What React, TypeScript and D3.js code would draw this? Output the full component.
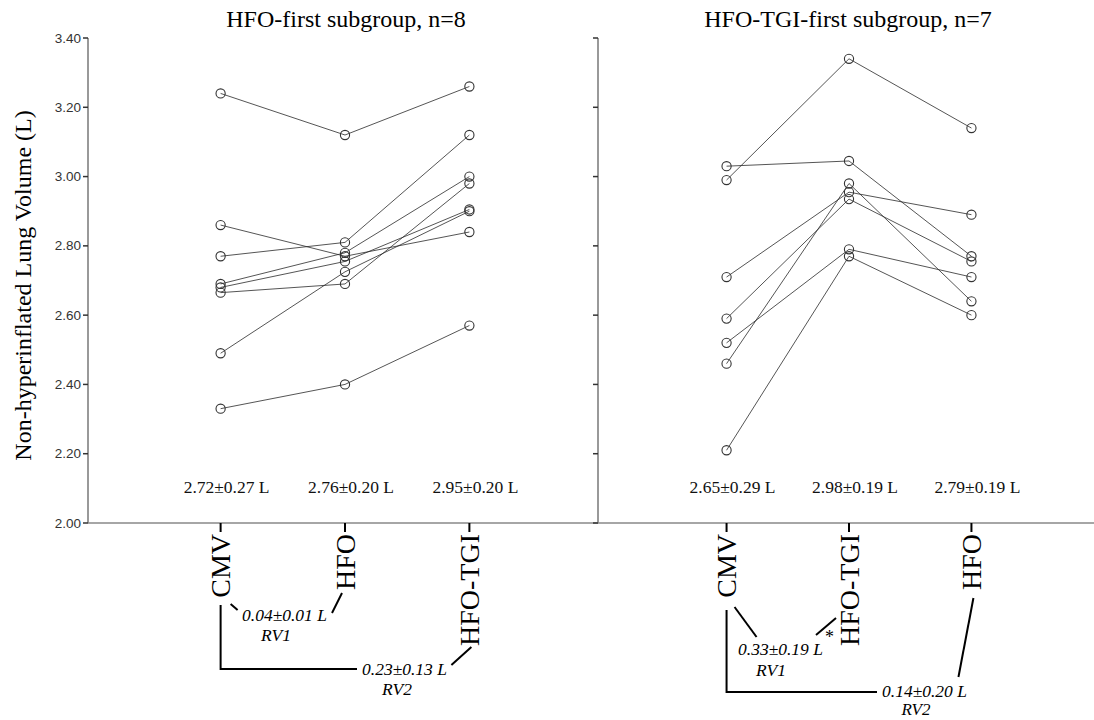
import React from "react";
import * as d3 from "d3";

// ---------- data ----------
const yTicks = [2.0, 2.2, 2.4, 2.6, 2.8, 3.0, 3.2, 3.4];

const leftTitle = "HFO-first subgroup, n=8";
const rightTitle = "HFO-TGI-first subgroup, n=7";
const yLabel = "Non-hyperinflated Lung Volume (L)";

const leftCategories = ["CMV", "HFO", "HFO-TGI"];
const rightCategories = ["CMV", "HFO-TGI", "HFO"];

// left panel: one entry per patient, in order of the categories
const leftCMV = [3.24, 2.33, 2.77, 2.86, 2.69, 2.68, 2.665, 2.49];
const leftHFO = [3.12, 2.4, 2.81, 2.77, 2.78, 2.755, 2.69, 2.725];
const leftTGI = [3.26, 2.57, 3.12, 2.84, 3.0, 2.905, 2.98, 2.9];

// right panel
const rightCMV = [2.99, 3.03, 2.71, 2.59, 2.46, 2.52, 2.21];
const rightTGI = [3.34, 3.045, 2.955, 2.935, 2.98, 2.79, 2.77];
const rightHFO = [3.14, 2.77, 2.89, 2.755, 2.64, 2.71, 2.6];

const leftMeans = ["2.72±0.27 L", "2.76±0.20 L", "2.95±0.20 L"];
const rightMeans = ["2.65±0.29 L", "2.98±0.19 L", "2.79±0.19 L"];

const leftRV1 = "0.04±0.01 L";
const leftRV2 = "0.23±0.13 L";
const rightRV1 = "0.33±0.19 L";
const rightRV2 = "0.14±0.20 L";

// ---------- layout ----------
const W = 1094;
const H = 720;
const yTop = 38;
const yBottom = 523;
const leftAxisX = 88;
const rightAxisX = 598;

const serif = "'Liberation Serif', 'Times New Roman', serif";
const sans = "'Liberation Sans', Arial, sans-serif";

const y = d3.scaleLinear().domain([2.0, 3.4]).range([yBottom, yTop]);
const xLeft = d3.scalePoint<string>().domain(leftCategories).range([90, 600]).padding(1.05);
const xRight = d3.scalePoint<string>().domain(rightCategories).range([598, 1100]).padding(1.05);

const leftSeries = leftCMV.map((_, i) => [leftCMV[i], leftHFO[i], leftTGI[i]]);
const rightSeries = rightCMV.map((_, i) => [rightCMV[i], rightTGI[i], rightHFO[i]]);

function Panel({ cats, x, series, means }: { cats: string[]; x: d3.ScalePoint<string>; series: number[][]; means: string[] }) {
  const line = d3
    .line<number>()
    .x((_, i) => x(cats[i]) as number)
    .y((d) => y(d));
  return (
    <g>
      {series.map((s, i) => (
        <path key={"l" + i} d={line(s) || ""} fill="none" stroke="#2a2a2a" strokeWidth={0.8} />
      ))}
      {series.map((s, i) =>
        s.map((v, j) => (
          <circle key={"c" + i + "-" + j} cx={x(cats[j]) as number} cy={y(v)} r={4.6} fill="none" stroke="#333" strokeWidth={1.1} />
        ))
      )}
      {cats.map((c, j) => (
        <g key={"t" + j}>
          <line x1={x(c) as number} x2={x(c) as number} y1={yBottom} y2={yBottom + 9} stroke="#000" strokeWidth={2} />
          <text
            transform={`translate(${x(c) as number},${yBottom + 11}) rotate(-90)`}
            textAnchor="end"
            dominantBaseline="central"
            fontFamily={serif}
            fontSize={28}
            fill="#000"
          >
            {c}
          </text>
          <text x={(x(c) as number) + 6} y={493} textAnchor="middle" fontFamily={serif} fontSize={17.5} fill="#111">
            {means[j]}
          </text>
        </g>
      ))}
    </g>
  );
}

export default function App() {
  const lx = leftCategories.map((c) => xLeft(c) as number);
  const rx = rightCategories.map((c) => xRight(c) as number);
  const ann = { fontFamily: serif, fontSize: 17.5, fontStyle: "italic" as const, fill: "#000" };
  return (
    <svg width={W} height={H} style={{ position: "absolute", left: 0, top: 0, background: "#fff" }}>
      <rect width={W} height={H} fill="#fff" />
      {/* titles */}
      <text x={346} y={27} textAnchor="middle" fontFamily={serif} fontSize={24} fill="#000">
        {leftTitle}
      </text>
      <text x={848} y={27} textAnchor="middle" fontFamily={serif} fontSize={24} fill="#000">
        {rightTitle}
      </text>
      {/* y label */}
      <text transform={`translate(31,${(yTop + yBottom) / 2 + 5}) rotate(-90)`} textAnchor="middle" fontFamily={serif} fontSize={24} fill="#000">
        {yLabel}
      </text>
      {/* axes */}
      <line x1={leftAxisX} x2={leftAxisX} y1={yTop} y2={yBottom} stroke="#555" strokeWidth={1.2} />
      <line x1={rightAxisX} x2={rightAxisX} y1={yTop} y2={yBottom} stroke="#555" strokeWidth={1.2} />
      <line x1={leftAxisX} x2={W} y1={yBottom} y2={yBottom} stroke="#888" strokeWidth={1.5} />
      {yTicks.map((t) => (
        <g key={t}>
          <line x1={leftAxisX - 5} x2={leftAxisX} y1={y(t)} y2={y(t)} stroke="#333" strokeWidth={1.5} />
          <line x1={rightAxisX - 5} x2={rightAxisX} y1={y(t)} y2={y(t)} stroke="#333" strokeWidth={1.5} />
          <text x={leftAxisX - 7} y={y(t)} textAnchor="end" dominantBaseline="central" fontFamily={sans} fontSize={13.5} fill="#333">
            {d3.format(".2f")(t)}
          </text>
        </g>
      ))}
      <Panel cats={leftCategories} x={xLeft} series={leftSeries} means={leftMeans} />
      <Panel cats={rightCategories} x={xRight} series={rightSeries} means={rightMeans} />

      {/* left annotations */}
      <g stroke="#000" strokeWidth={2} fill="none">
        <line x1={lx[0] + 10} y1={604} x2={lx[0] + 17} y2={610} />
        <line x1={lx[1] - 3} y1={593} x2={lx[1] - 13} y2={613} />
        <path d={`M${lx[0]},605V669H357`} />
        <line x1={lx[2] + 2} y1={647} x2={lx[2] - 18} y2={665} />
      </g>
      <text x={242} y={621} {...ann}>{leftRV1}</text>
      <text x={276} y={641} textAnchor="middle" {...ann}>RV1</text>
      <text x={362} y={675} {...ann}>{leftRV2}</text>
      <text x={397} y={695} textAnchor="middle" {...ann}>RV2</text>

      {/* right annotations */}
      <g stroke="#000" strokeWidth={2} fill="none">
        <line x1={rx[0] + 8} y1={607} x2={rx[0] + 30} y2={637} />
        <line x1={rx[1] - 13} y1={618} x2={rx[1] - 33} y2={635} />
        <path d={`M${rx[0]},610V692H877`} />
        <line x1={rx[2] + 2} y1={598} x2={rx[2] - 13} y2={677} />
      </g>
      <text x={738} y={655} {...ann}>{rightRV1}</text>
      <text x={825} y={643} fontFamily={serif} fontSize={18} fill="#000">*</text>
      <text x={771} y={676} textAnchor="middle" {...ann}>RV1</text>
      <text x={882} y={697} {...ann}>{rightRV2}</text>
      <text x={916} y={715} textAnchor="middle" fontFamily={serif} fontSize={17} fontStyle="italic" fill="#000">RV2</text>
    </svg>
  );
}
